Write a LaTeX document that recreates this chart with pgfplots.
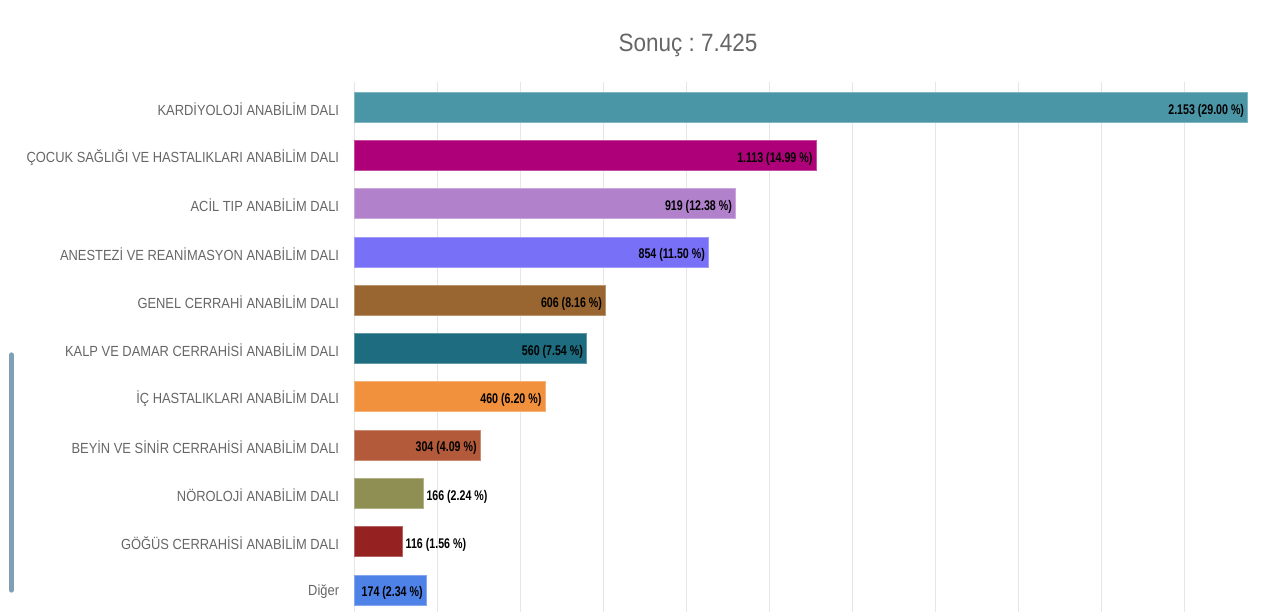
\documentclass[border=0pt]{standalone}
\usepackage{pgfplots}
\pgfplotsset{compat=1.18}
\usepackage{fontspec}
\setmainfont{Liberation Sans}
\newfontfamily\labfont[FakeStretch=0.88]{Liberation Sans}
\newfontfamily\valfont[FakeStretch=0.76]{Liberation Sans}
\newfontfamily\titfont[FakeStretch=0.9]{Liberation Sans}
\frenchspacing

\definecolor{c1}{HTML}{4A95A6}
\definecolor{c2}{HTML}{AE0078}
\definecolor{c3}{HTML}{B281CC}
\definecolor{c4}{HTML}{7870F6}
\definecolor{c5}{HTML}{996631}
\definecolor{c6}{HTML}{1E6C80}
\definecolor{c7}{HTML}{F2913D}
\definecolor{c8}{HTML}{B25A39}
\definecolor{c9}{HTML}{8F8F53}
\definecolor{c10}{HTML}{962121}
\definecolor{c11}{HTML}{4F82E6}
\definecolor{labgray}{HTML}{666666}
\definecolor{gridgray}{HTML}{E6E6E6}
\definecolor{sidebar}{HTML}{7F9FB5}

\pgfplotsset{
  inlab/.style={nodes near coords, point meta=explicit symbolic,
    every node near coord/.append style={anchor=east, xshift=-2.5pt}},
  outlab/.style={nodes near coords, point meta=explicit symbolic,
    every node near coord/.append style={anchor=west, xshift=2.5pt}},
}

% 1 px of the reference = 0.75pt
\begin{document}
\begin{tikzpicture}
\useasboundingbox (0pt,0pt) rectangle (947.25pt,459pt);
% sidebar edge on the left
\draw[sidebar, line width=4pt, line cap=round] (8.5pt,192.75pt) -- (8.5pt,16.5pt);
\node[font=\titfont\fontsize{18.75}{20}\selectfont, text=labgray] at (516pt,425pt) {Sonuç : 7.425};
\begin{axis}[
  at={(265.5pt,0pt)}, anchor=south west,
  scale only axis, width=681.75pt, height=397.5pt,
  xbar, bar shift=0pt, bar width=0.62,
  y dir=reverse,
  xmin=0, xmax=2190, ymin=-0.52, ymax=10.46,
  xtick={0,200,...,2000}, xticklabels={},
  xmajorgrids, grid style={gridgray, line width=0.75pt},
  ytick={0,...,10},
  yticklabels={KARDİYOLOJİ ANABİLİM DALI, ÇOCUK SAĞLIĞI VE HASTALIKLARI ANABİLİM DALI, ACİL TIP ANABİLİM DALI, ANESTEZİ VE REANİMASYON ANABİLİM DALI, GENEL CERRAHİ ANABİLİM DALI, KALP VE DAMAR CERRAHİSİ ANABİLİM DALI, İÇ HASTALIKLARI ANABİLİM DALI, BEYİN VE SİNİR CERRAHİSİ ANABİLİM DALI, NÖROLOJİ ANABİLİM DALI, GÖĞÜS CERRAHİSİ ANABİLİM DALI, Diğer},
  yticklabel style={font=\labfont\fontsize{11}{12}\selectfont, text=labgray, inner sep=0pt, xshift=-11pt, yshift=-1.5pt},
  major tick length=0pt,
  axis line style={draw=none},
  clip=false,
  nodes near coords style={font=\valfont\bfseries\fontsize{10.5}{12}\selectfont, text=black, inner sep=0pt, yshift=-2.5pt},
]
\addplot[fill=c1, draw=c1!70!white, inlab] coordinates {(2153,0) [2.153 (29.00 \%)]};
\addplot[fill=c2, draw=c2!70!white, inlab] coordinates {(1113,1) [1.113 (14.99 \%)]};
\addplot[fill=c3, draw=c3!70!white, inlab] coordinates {(919,2) [919 (12.38 \%)]};
\addplot[fill=c4, draw=c4!70!white, inlab] coordinates {(854,3) [854 (11.50 \%)]};
\addplot[fill=c5, draw=c5!70!white, inlab] coordinates {(606,4) [606 (8.16 \%)]};
\addplot[fill=c6, draw=c6!70!white, inlab] coordinates {(560,5) [560 (7.54 \%)]};
\addplot[fill=c7, draw=c7!70!white, inlab] coordinates {(460,6) [460 (6.20 \%)]};
\addplot[fill=c8, draw=c8!70!white, inlab] coordinates {(304,7) [304 (4.09 \%)]};
\addplot[fill=c9, draw=c9!70!white, outlab] coordinates {(166,8) [166 (2.24 \%)]};
\addplot[fill=c10, draw=c10!70!white, outlab] coordinates {(116,9) [116 (1.56 \%)]};
\addplot[fill=c11, draw=c11!70!white, inlab] coordinates {(174,10) [174 (2.34 \%)]};
\end{axis}
\end{tikzpicture}
\end{document}
